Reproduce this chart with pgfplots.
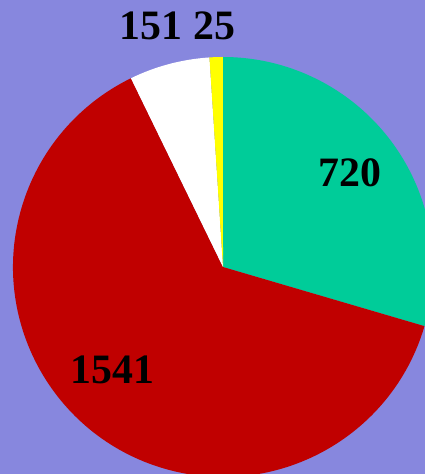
\documentclass[border=0pt]{standalone}
\usepackage{pgfplots}
\pgfplotsset{compat=1.18}
\usepackage{fontspec}
\setmainfont{Liberation Serif}
\definecolor{bgc}{HTML}{8787DE}
\definecolor{pgreen}{HTML}{00CC99}
\definecolor{pred}{HTML}{C00000}
\definecolor{pyellow}{HTML}{FFFF00}
\begin{document}
\begin{tikzpicture}
% slice values, clockwise from 12 o'clock
\pgfmathsetmacro{\vA}{720}
\pgfmathsetmacro{\vB}{1541}
\pgfmathsetmacro{\vC}{151}
\pgfmathsetmacro{\vD}{25}
\pgfmathsetmacro{\tot}{\vA+\vB+\vC+\vD}
\pgfmathsetmacro{\aA}{90}
\pgfmathsetmacro{\aB}{\aA-\vA/\tot*360}
\pgfmathsetmacro{\aC}{\aB-\vB/\tot*360}
\pgfmathsetmacro{\aD}{\aC-\vC/\tot*360}
\pgfmathsetmacro{\aE}{\aD-\vD/\tot*360}
\begin{axis}[
  width=425bp, height=474bp, scale only axis,
  xmin=0, xmax=425, ymin=0, ymax=474,
  hide axis,
]
\fill[bgc] (rel axis cs:0,0) rectangle (rel axis cs:1,1);
\fill[pgreen] (axis cs:223,207) -- ++(\aA:210bp)
  arc[start angle=\aA, end angle=\aB, radius=210bp] -- cycle;
\fill[pred] (axis cs:223,207) -- ++(\aB:210bp)
  arc[start angle=\aB, end angle=\aC, radius=210bp] -- cycle;
\fill[white] (axis cs:223,207) -- ++(\aC:210bp)
  arc[start angle=\aC, end angle=\aD, radius=210bp] -- cycle;
\fill[pyellow] (axis cs:223,207) -- ++(\aD:210bp)
  arc[start angle=\aD, end angle=\aE, radius=210bp] -- cycle;
\tikzset{lbl/.style={inner sep=0pt, font=\fontsize{42}{42}\selectfont\bfseries}}
\node[lbl] at (axis cs:350,301.5) {720};
\node[lbl] at (axis cs:112.5,104) {1541};
\node[lbl] at (axis cs:177.5,448.5) {151 25};
\end{axis}
\pgfresetboundingbox
\path (current axis.south west) rectangle (current axis.north east);
\end{tikzpicture}
\end{document}
